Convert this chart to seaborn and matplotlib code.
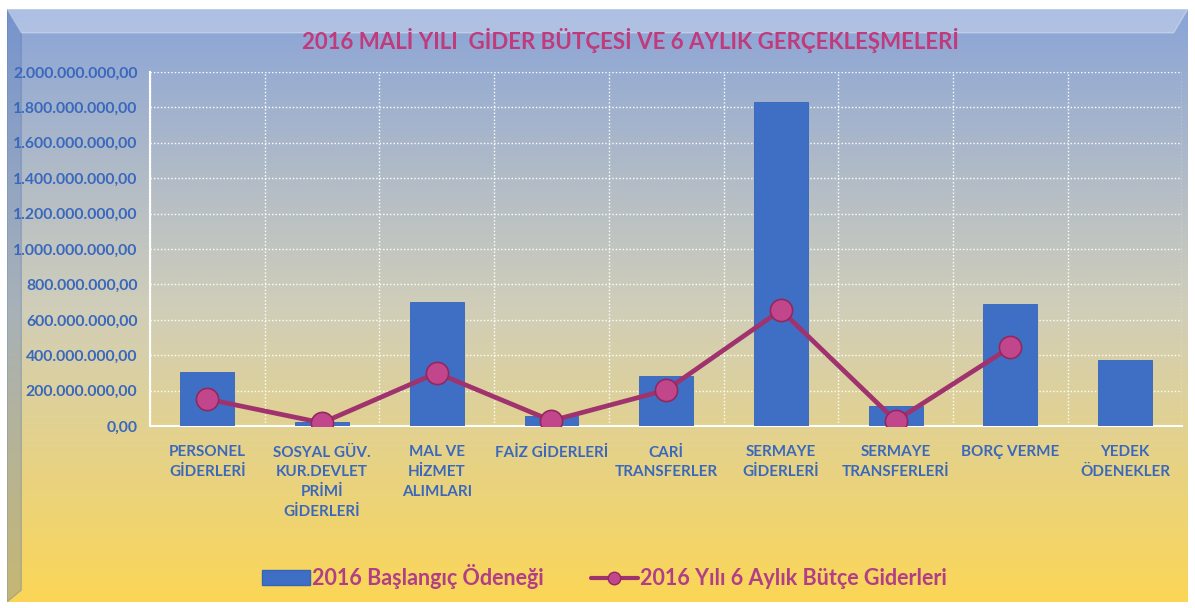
import numpy as np
import pandas as pd
import matplotlib
matplotlib.use("Agg")
import matplotlib.pyplot as plt
import seaborn as sns
from matplotlib.ticker import FuncFormatter, MultipleLocator
from matplotlib.patches import Patch
from matplotlib.lines import Line2D

# values (TL)
categories = [
    "PERSONEL\nGİDERLERİ",
    "SOSYAL GÜV.\nKUR.DEVLET\nPRİMİ\nGİDERLERİ",
    "MAL VE\nHİZMET\nALIMLARI",
    "FAİZ GİDERLERİ",
    "CARİ\nTRANSFERLER",
    "SERMAYE\nGİDERLERİ",
    "SERMAYE\nTRANSFERLERİ",
    "BORÇ VERME",
    "YEDEK\nÖDENEKLER",
]
baslangic = [305e6, 22e6, 700e6, 55e6, 285e6, 1830e6, 113e6, 690e6, 372e6]
gerceklesme = [152e6, 18e6, 300e6, 30e6, 203e6, 655e6, 30e6, 445e6, np.nan]

title = "2016 MALİ YILI  GİDER BÜTÇESİ VE 6 AYLIK GERÇEKLEŞMELERİ"
label_bar = "2016 Başlangıç Ödeneği"
label_line = "2016 Yılı 6 Aylık Bütçe Giderleri"

df = pd.DataFrame({"kategori": categories, "baslangic": baslangic, "gerceklesme": gerceklesme})

sns.set_theme(style="white")
plt.rcParams["font.family"] = ["Lato", "DejaVu Sans"]

bar_color = "#3f6fc4"
line_color = "#a0326e"
text_blue = "#3a68bd"
pink = "#c03a7c"

fig = plt.figure(figsize=(11.95, 6.08), dpi=100)
fig.patch.set_facecolor("white")

# gradient background panel
bg = fig.add_axes([0.006, 0.01, 0.988, 0.975])
bg.set_axis_off()
top = np.array([138, 164, 216]) / 255
mid = np.array([208, 206, 186]) / 255
bot = np.array([251, 214, 86]) / 255
t = np.linspace(0, 1, 300)[:, None]
grad = np.where(t < 0.5, top + (mid - top) * (t / 0.5), mid + (bot - mid) * ((t - 0.5) / 0.5))
bg.imshow(grad[:, None, :], aspect="auto", extent=[0, 1, 0, 1])
# thin bevel edges
bg.fill([0, 0.012, 0.012, 0], [0, 0.02, 0.96, 1], color="#4a6fb5", alpha=0.3)
bg.fill([0, 1, 0.988, 0.012], [1, 1, 0.96, 0.96], color="white", alpha=0.3)
bg.set_xlim(0, 1)
bg.set_ylim(0, 1)

ax = fig.add_axes([0.1255, 0.2993, 0.864, 0.5823])
ax.set_facecolor("none")

sns.barplot(data=df, x="kategori", y="baslangic", color=bar_color, width=0.47,
            edgecolor="#3564b8", linewidth=0.6, saturation=1, ax=ax, zorder=3)
sns.pointplot(data=df, x="kategori", y="gerceklesme", color=line_color, errorbar=None,
              markers="o", markersize=16, linewidth=3.4, markeredgecolor="#93285f",
              markeredgewidth=1.2, markerfacecolor="#c2468c", ax=ax, zorder=4)

ax.set_ylim(0, 2e9)
ax.set_xlim(-0.5, len(categories) - 0.5)
ax.yaxis.set_major_locator(MultipleLocator(2e8))


def tr_fmt(v, pos):
    s = f"{v:,.2f}"
    return s.replace(",", "X").replace(".", ",").replace("X", ".")


ax.yaxis.set_major_formatter(FuncFormatter(tr_fmt))
ax.set_xticks(np.arange(-0.5, len(categories), 1.0), minor=True)
ax.grid(True, axis="y", which="major", color="white", linestyle=(0, (1, 1.5)), linewidth=1)
ax.grid(True, axis="x", which="minor", color="white", linestyle=(0, (1, 1.5)), linewidth=1)
ax.set_axisbelow(True)

for side in ["top", "right"]:
    ax.spines[side].set_visible(False)
ax.spines["left"].set_color("white")
ax.spines["bottom"].set_color("white")
ax.spines["left"].set_linewidth(1.5)
ax.spines["bottom"].set_linewidth(1.5)

ax.tick_params(axis="y", colors="white", length=5, width=1.2, labelcolor=text_blue, labelsize=11.3, pad=4)
ax.tick_params(axis="x", which="major", length=0, labelcolor=text_blue, labelsize=11, pad=14)
ax.tick_params(axis="x", which="minor", length=5, colors="white")
for lbl in ax.get_yticklabels():
    lbl.set_fontweight("bold")
for lbl in ax.get_xticklabels():
    lbl.set_fontweight("bold")
    lbl.set_va("top")
    lbl.set_linespacing(1.5)
ax.set_xlabel("")
ax.set_ylabel("")

fig.text(0.528, 0.933, title, ha="center", va="center", color=pink,
         fontsize=16, fontweight="bold")

handles = [
    Patch(facecolor=bar_color, edgecolor="#3564b8", label=label_bar),
    Line2D([0], [0], color=line_color, lw=3, marker="o", markersize=9,
           markerfacecolor="#c2468c", markeredgecolor="#93285f", label=label_line),
]
leg = fig.legend(handles=handles, loc="center", bbox_to_anchor=(0.506, 0.051), ncol=2,
                 frameon=False, fontsize=15.5, handlelength=2.2, handletextpad=0.1,
                 columnspacing=2.2)
for txt in leg.get_texts():
    txt.set_color("#b23e86")
    txt.set_fontweight("bold")

fig.savefig("out.png", dpi=100)
